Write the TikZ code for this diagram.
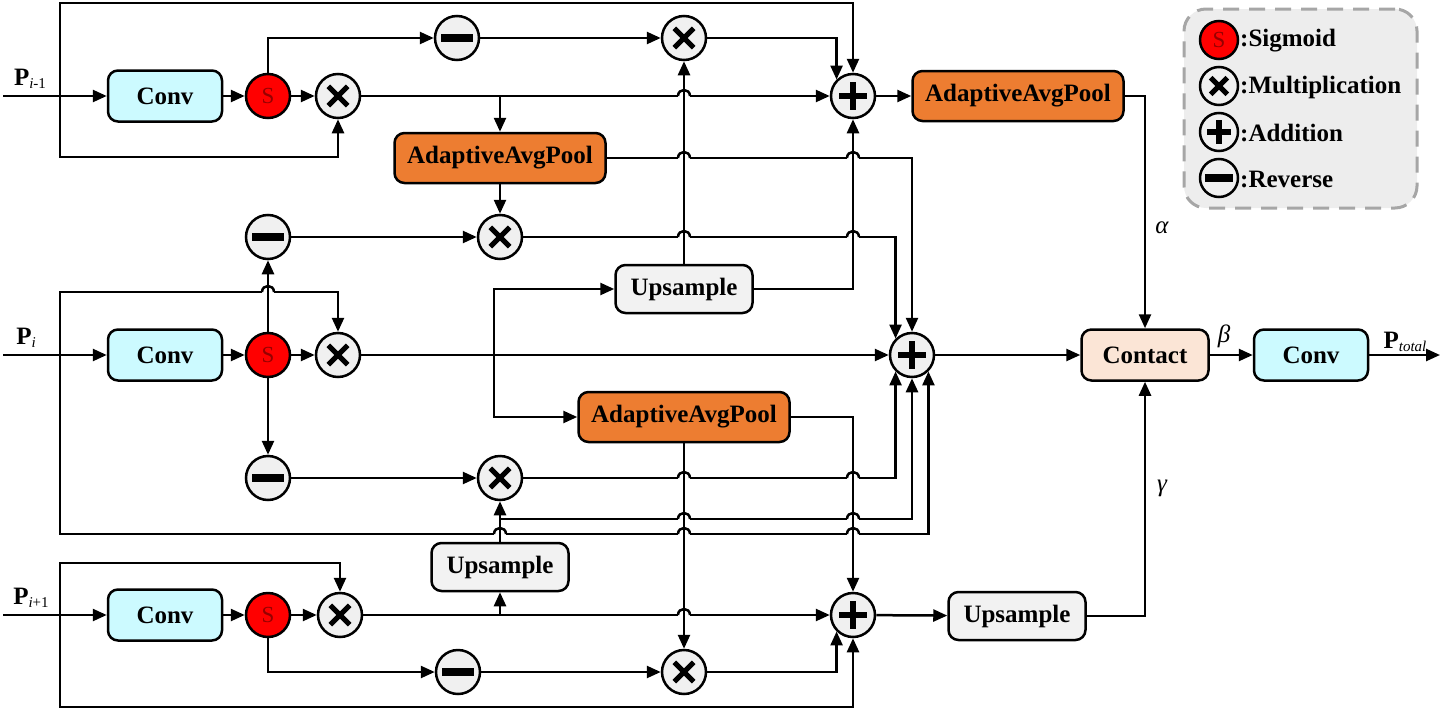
\documentclass[tikz,border=0pt]{standalone}
\usepackage{fontspec}
\setmainfont{Liberation Serif}
\usetikzlibrary{arrows.meta,calc}
\definecolor{convc}{RGB}{204,250,255}
\definecolor{aapc}{RGB}{237,125,49}
\definecolor{upsc}{RGB}{242,242,242}
\definecolor{contc}{RGB}{251,229,214}
\definecolor{opc}{RGB}{240,240,240}
\definecolor{legf}{RGB}{237,237,237}
\definecolor{legb}{RGB}{166,166,166}
\definecolor{sred}{RGB}{150,0,0}
\newcommand\jumpover[2]{%
  \fill[white] (#1-6,#2-3) rectangle (#1+6,#2+3);
  \draw[ln] (#1,#2-7) -- (#1,#2+7);
  \draw[ln] (#1-6,#2) .. controls (#1-6,#2-8) and (#1+6,#2-8) .. (#1+6,#2);}
\tikzset{
  ln/.style={line width=2.5pt},
  arr/.style={ln,-{Triangle[length=14pt,width=12pt]}},
  txt/.style={font=\bfseries\fontsize{25}{29}\selectfont},
  box/.style={draw, ln, rounded corners=10pt, inner sep=0pt, txt},
  convbox/.style={box, fill=convc, minimum width=114pt, minimum height=51pt},
  aapbox/.style={box, fill=aapc, minimum width=211pt, minimum height=50pt},
  upsbox/.style={box, fill=upsc, minimum width=137pt, minimum height=48pt},
  contbox/.style={box, fill=contc, minimum width=127pt, minimum height=51pt},
  op/.style={circle, draw, ln, fill=opc, minimum size=#1, inner sep=0pt},
  op/.default=44pt,
  sig/.style={circle, draw, ln, fill=red, minimum size=#1, inner sep=0pt, text=sred, font=\fontsize{23}{23}\selectfont},
  sig/.default=44pt,
  mulop/.style={op=#1, path picture={
    \draw[line width=5pt]
     ($(path picture bounding box.north west)!0.28!(path picture bounding box.south east)$) --
     ($(path picture bounding box.north west)!0.72!(path picture bounding box.south east)$)
     ($(path picture bounding box.south west)!0.28!(path picture bounding box.north east)$) --
     ($(path picture bounding box.south west)!0.72!(path picture bounding box.north east)$);}},
  mulop/.default=44pt,
  addop/.style={op=#1, path picture={
    \draw[line width=5.5pt]
     ($(path picture bounding box.north)!0.19!(path picture bounding box.south)$) --
     ($(path picture bounding box.north)!0.81!(path picture bounding box.south)$)
     ($(path picture bounding box.west)!0.19!(path picture bounding box.east)$) --
     ($(path picture bounding box.west)!0.81!(path picture bounding box.east)$);}},
  addop/.default=44pt,
  revop/.style={op=#1, path picture={
    \draw[line width=8pt]
     ($(path picture bounding box.west)!0.14!(path picture bounding box.east)$) --
     ($(path picture bounding box.west)!0.86!(path picture bounding box.east)$);}},
  revop/.default=44pt,
}
\begin{document}
\begin{tikzpicture}[x=1pt,y=-1pt]
\useasboundingbox (0,0) rectangle (1448,712);

% legend
\node[draw=legb, line width=3pt, dash pattern=on 16pt off 10pt, fill=legf, rounded corners=22pt,
      minimum width=233pt, minimum height=199pt, inner sep=0pt] (leg) at (1300.5,108.5) {};
\node[sig=38pt] (ls) at (1219,40) {S};
\node[mulop=38pt] (lm) at (1219,86) {};
\node[addop=38pt] (la) at (1219,132) {};
\node[revop=38pt] (lr) at (1219,178) {};
\node[txt, anchor=west, inner sep=0pt] (lst) at (1240,41) {:Sigmoid};
\node[txt, anchor=west, inner sep=0pt] (lmt) at (1240,87) {:Multiplication};
\node[txt, anchor=west, inner sep=0pt] (lat) at (1240,133) {:Addition};
\node[txt, anchor=west, inner sep=0pt] (lrt) at (1240,179) {:Reverse};

% row nodes
\node[convbox] (c1) at (165,96) {Conv};
\node[convbox] (c2) at (165,355) {Conv};
\node[convbox] (c3) at (165,615) {Conv};
\node[sig] (s1) at (268,96) {S};
\node[sig] (s2) at (268,355) {S};
\node[sig] (s3) at (268,615) {S};
\node[mulop] (m1) at (338,96) {};
\node[mulop] (m4) at (338,355) {};
\node[mulop] (m7) at (340,615) {};
\node[revop] (r1) at (457,38) {};
\node[revop] (r2) at (268,237) {};
\node[revop] (r3) at (268,478) {};
\node[revop] (r4) at (458,672) {};
\node[mulop] (m2) at (684,38) {};
\node[mulop] (m3) at (500,237) {};
\node[mulop] (m5) at (500,478) {};
\node[mulop] (m6) at (684,672) {};
\node[addop] (a1) at (853,96) {};
\node[addop] (a2) at (912,355) {};
\node[addop] (a3) at (853,615) {};
\node[aapbox] (p1) at (500,158) {AdaptiveAvgPool};
\node[aapbox] (p2) at (1018,96) {AdaptiveAvgPool};
\node[aapbox] (p3) at (684,417) {AdaptiveAvgPool};
\node[upsbox] (u1) at (684,289) {Upsample};
\node[upsbox] (u2) at (500,567) {Upsample};
\node[upsbox] (u3) at (1017,616) {Upsample};
\node[contbox] (ct) at (1145,355) {Contact};
\node[convbox] (c4) at (1311,355) {Conv};

% labels
\node[txt] (pl1) at (30,79) {P{\mdseries\fontsize{15}{15}\selectfont\raisebox{-3pt}{\textit{i}-1}}};
\node[txt] (pl2) at (26,338) {P{\mdseries\fontsize{15}{15}\selectfont\raisebox{-3pt}{\textit{i}}}};
\node[txt] (pl3) at (31,598) {P{\mdseries\fontsize{15}{15}\selectfont\raisebox{-3pt}{\textit{i}+1}}};
\node[txt] (plt) at (1405,342) {P{\mdseries\fontsize{15}{15}\selectfont\raisebox{-3pt}{\textit{total}}}};
\node[font=\itshape\fontsize{25}{29}\selectfont] (lal) at (1162,228) {α};
\node[font=\itshape\fontsize{25}{29}\selectfont] (lbe) at (1224,336) {β};
\node[font=\itshape\fontsize{25}{29}\selectfont] (lga) at (1162,488) {γ};

% coordinates
\coordinate (in1) at (3,96);
\coordinate (in2) at (3,355);
\coordinate (in3) at (3,615);
\coordinate (j1) at (60,96);
\coordinate (j2) at (60,355);
\coordinate (j3) at (60,615);
\coordinate (b1) at (500,96);
\coordinate (b2) at (494,355);
\coordinate (b3) at (500,615);
\coordinate (b4) at (500,519);
\coordinate (out) at (1440,355);

% row 1
\draw[arr] (in1) -- (c1);
\draw[arr] (c1) -- (s1);
\draw[arr] (s1) -- (m1);
\draw[arr] (j1) |- (a1 |- 0,3) -- (a1);
\draw[arr] (j1) |- (m1 |- 0,157) -- (m1);
\draw[arr] (s1) |- (r1);
\draw[arr] (r1) -- (m2);
\draw[arr] (m2) -| (a1.north west);
\draw[arr] (m1) -- (a1);
\draw[arr] (b1) -- (p1);
\draw[arr] (p1) -- (m3);
\draw[arr] (p1) -| (a2);
\draw[arr] (a1) -- (p2);
\draw[arr] (p2) -| (ct);

% row 2
\draw[arr] (in2) -- (c2);
\draw[arr] (c2) -- (s2);
\draw[arr] (s2) -- (m4);
\draw[arr] (j2) |- (m4 |- 0,292) -- (m4);
\draw[arr] (j2) |- (a2.south east |- 0,534) -- (a2.south east);
\draw[arr] (s2) -- (r2);
\draw[arr] (r2) -- (m3);
\draw[arr] (m3) -| (a2.north west);
\draw[arr] (s2) -- (r3);
\draw[arr] (r3) -- (m5);
\draw[arr] (m5) -| (a2.south west);
\draw[arr] (m4) -- (a2);
\draw[arr] (b2) |- (u1);
\draw[arr] (b2) |- (p3);
\draw[arr] (u1) -- (m2);
\draw[arr] (u1) -| (a1);
\draw[arr] (p3) -| (a3);
\draw[arr] (p3) -- (m6);
\draw[arr] (u2) -- (m5);
\draw[arr] (b4) -| (a2);
\draw[arr] (a2) -- (ct);

% row 3
\draw[arr] (in3) -- (c3);
\draw[arr] (c3) -- (s3);
\draw[arr] (s3) -- (m7);
\draw[arr] (j3) |- (m7 |- 0,563) -- (m7);
\draw[arr] (j3) |- (a3 |- 0,707) -- (a3);
\draw[arr] (s3) |- (r4);
\draw[arr] (r4) -- (m6);
\draw[arr] (m6) -| (a3.south west);
\draw[arr] (m7) -- (a3);
\draw[arr] (b3) -- (u2);
\draw[arr] (a3) -- (u3);
\draw[arr] (u3) -| (ct);
\draw[arr] (ct) -- (c4);
\draw[arr] (c4) -- (out);

% line jumps
\jumpover{684}{96}
\jumpover{684}{158}
\jumpover{853}{158}
\jumpover{684}{237}
\jumpover{853}{237}
\jumpover{268}{292}
\jumpover{684}{478}
\jumpover{853}{478}
\jumpover{684}{519}
\jumpover{853}{519}
\jumpover{500}{534}
\jumpover{684}{534}
\jumpover{853}{534}
\jumpover{684}{615}
\end{tikzpicture}
\end{document}
